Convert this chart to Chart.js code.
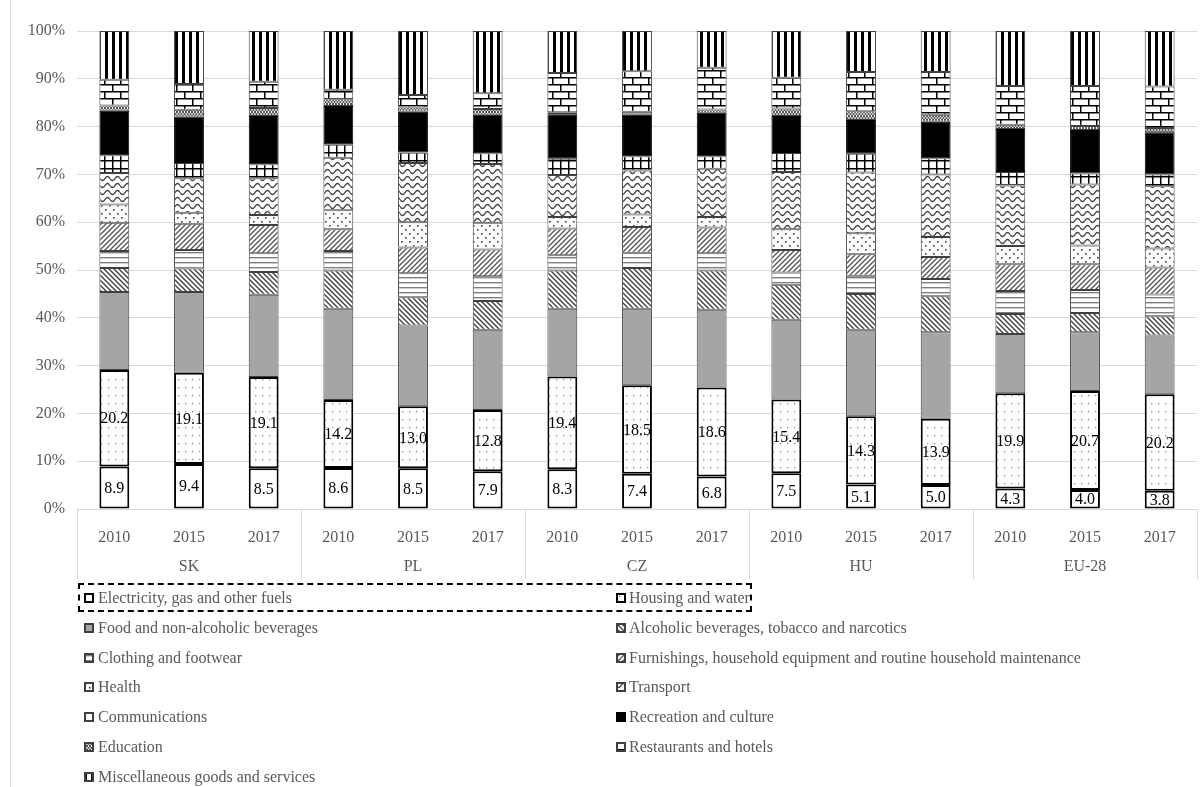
<!DOCTYPE html>
<html>
<head>
<meta charset="utf-8">
<script src="https://cdn.jsdelivr.net/npm/chart.js@4"></script>
<style>
  html, body { margin: 0; padding: 0; background: #fff; }
  #wrap { position: relative; width: 1202px; height: 787px; overflow: hidden; font-family: "Liberation Serif", "Times New Roman", serif; }
  #edge { position: absolute; left: 10px; top: 0; width: 1px; height: 787px; background: #d9d9d9; }
  #chart { position: absolute; left: 0; top: 0; }
  #legend { position: absolute; left: 0; top: 0; width: 1202px; height: 787px; pointer-events: none; }
  .item { position: absolute; height: 30px; line-height: 30px; font-size: 16px; color: #595959; white-space: nowrap; }
  .item canvas { position: absolute; left: 0; top: 10px; }
  .item span { position: absolute; top: 0; }
  #sel { position: absolute; left: 78px; top: 583px; width: 670px; height: 25px; border: 2px dashed #000; }
</style>
</head>
<body>
<div id="wrap">
  <div id="edge"></div>
  <canvas id="chart" width="1202" height="590"></canvas>
  <div id="legend"></div>
  <div id="sel"></div>
</div>
<script>
// Household consumption structure, % of total expenditure
const countries = ['SK', 'PL', 'CZ', 'HU', 'EU-28'];
const years = ['2010', '2015', '2017'];

// each series: SK 2010/2015/2017, PL ..., CZ ..., HU ..., EU-28 ...
const electricity    = [8.9, 9.4, 8.5, 8.6, 8.5, 7.9, 8.3, 7.4, 6.8, 7.5, 5.1, 5.0, 4.3, 4.0, 3.8];
const housing        = [20.2, 19.1, 19.1, 14.2, 13.0, 12.8, 19.4, 18.5, 18.6, 15.4, 14.3, 13.9, 19.9, 20.7, 20.2];
const food           = [16.3, 16.9, 17.2, 19.1, 16.9, 16.8, 14.2, 16.0, 16.3, 16.7, 18.1, 18.1, 12.4, 12.3, 12.3];
const alcohol        = [5.0, 4.9, 4.8, 8.0, 5.9, 6.0, 8.0, 8.5, 8.2, 7.3, 7.5, 7.5, 4.2, 4.0, 4.0];
const clothing       = [3.6, 3.9, 3.9, 4.1, 5.0, 5.2, 3.2, 3.2, 3.6, 2.6, 3.8, 3.6, 4.8, 4.8, 4.6];
const furnishings    = [5.9, 5.5, 5.9, 4.5, 5.4, 5.6, 5.6, 5.4, 5.4, 4.7, 4.5, 4.6, 5.6, 5.4, 5.6];
const health         = [3.8, 2.3, 2.1, 4.0, 5.3, 5.6, 2.4, 2.6, 2.2, 4.3, 4.4, 4.2, 3.8, 3.9, 4.0];
const transport      = [6.6, 7.2, 7.7, 11.0, 12.4, 12.3, 8.8, 9.2, 10.1, 12.0, 12.7, 13.1, 12.7, 12.8, 13.0];
const communications = [3.7, 3.2, 2.9, 2.8, 2.2, 2.2, 3.4, 3.0, 2.6, 4.0, 3.9, 3.4, 2.8, 2.3, 2.5];
const recreation     = [9.3, 9.7, 10.1, 8.0, 8.5, 8.1, 9.3, 8.7, 9.1, 7.7, 7.1, 7.6, 9.0, 9.1, 8.8];
const education      = [1.1, 1.4, 1.7, 1.4, 0.9, 1.2, 0.4, 0.6, 0.7, 1.6, 1.8, 1.5, 0.9, 0.8, 0.9];
const restaurants    = [5.4, 5.4, 5.5, 2.0, 2.6, 3.3, 8.2, 8.5, 8.7, 6.4, 8.2, 8.9, 8.1, 8.4, 8.7];
const misc           = [10.2, 11.1, 10.6, 12.3, 13.4, 13.0, 8.8, 8.4, 7.7, 9.8, 8.6, 8.6, 11.5, 11.5, 11.6];

const yTicks = [0, 10, 20, 30, 40, 50, 60, 70, 80, 90, 100];

// ---- fill patterns ----
function tile(w, h, draw) {
  const c = document.createElement('canvas');
  c.width = w; c.height = h;
  const g = c.getContext('2d');
  g.fillStyle = '#fff';
  g.fillRect(0, 0, w, h);
  draw(g, w, h);
  return c;
}
const tiles = {
  plain: tile(4, 4, () => {}),
  sparseDots: tile(7, 8, g => { g.fillStyle = '#8c8c8c'; g.fillRect(3, 3, 1.3, 1.3); }),
  grey: tile(4, 4, g => { g.fillStyle = '#a5a5a5'; g.fillRect(0, 0, 4, 4); }),
  backDiag: tile(5, 5, g => {
    g.strokeStyle = '#404040'; g.lineWidth = 1.4;
    g.beginPath(); g.moveTo(-1, -1); g.lineTo(6, 6); g.moveTo(-1, 4); g.lineTo(1, 6); g.moveTo(4, -1); g.lineTo(6, 1); g.stroke();
  }),
  hLines: tile(4, 5, g => { g.fillStyle = '#7f7f7f'; g.fillRect(0, 2, 4, 1.4); }),
  fwdDiag: tile(5, 5, g => {
    g.strokeStyle = '#595959'; g.lineWidth = 1.4;
    g.beginPath(); g.moveTo(-1, 6); g.lineTo(6, -1); g.moveTo(-1, 1); g.lineTo(1, -1); g.moveTo(4, 6); g.lineTo(6, 4); g.stroke();
  }),
  denseDots: tile(8, 8, g => { g.fillStyle = '#404040'; g.fillRect(1, 1, 1.6, 1.6); g.fillRect(5, 5, 1.6, 1.6); }),
  waves: tile(10, 7, g => {
    g.strokeStyle = '#404040'; g.lineWidth = 1.3;
    g.beginPath();
    for (let x = 0; x <= 10; x += 0.5) {
      const y = 3.5 + 2 * Math.sin(x / 10 * Math.PI * 2);
      if (x === 0) g.moveTo(x, y); else g.lineTo(x, y);
    }
    g.stroke();
  }),
  grid: tile(8, 8, g => { g.fillStyle = '#000'; g.fillRect(0, 0, 8, 1.5); g.fillRect(0, 0, 1.5, 8); }),
  black: tile(4, 4, g => { g.fillStyle = '#000'; g.fillRect(0, 0, 4, 4); }),
  crosses: tile(6, 4, g => {
    g.strokeStyle = '#404040'; g.lineWidth = 1;
    g.beginPath(); g.moveTo(0, 0); g.lineTo(3, 4); g.moveTo(3, 0); g.lineTo(0, 4);
    g.moveTo(3, 0); g.lineTo(6, 4); g.moveTo(6, 0); g.lineTo(3, 4); g.stroke();
  }),
  bricks: tile(16, 14, g => {
    g.fillStyle = '#000';
    g.fillRect(0, 0, 16, 1.5); g.fillRect(0, 7, 16, 1.5);
    g.fillRect(0, 0, 1.5, 7); g.fillRect(8, 7, 1.5, 7);
  }),
  vStripes: tile(7, 4, g => { g.fillStyle = '#000'; g.fillRect(0, 0, 3, 4); })
};
function fill(ctx, name) { return ctx.createPattern(tiles[name], 'repeat'); }

const seriesDefs = [
  { label: 'Electricity, gas and other fuels', data: electricity, tile: 'plain', bw: 2, bc: '#000' },
  { label: 'Housing and water', data: housing, tile: 'sparseDots', bw: 2, bc: '#000' },
  { label: 'Food and non-alcoholic beverages', data: food, tile: 'grey', bw: 1, bc: '#404040' },
  { label: 'Alcoholic beverages, tobacco and narcotics', data: alcohol, tile: 'backDiag', bw: 1, bc: '#404040' },
  { label: 'Clothing and footwear', data: clothing, tile: 'hLines', bw: 1, bc: '#404040' },
  { label: 'Furnishings, household equipment and routine household maintenance', data: furnishings, tile: 'fwdDiag', bw: 1, bc: '#404040' },
  { label: 'Health', data: health, tile: 'denseDots', bw: 1, bc: '#404040' },
  { label: 'Transport', data: transport, tile: 'waves', bw: 1, bc: '#404040' },
  { label: 'Communications', data: communications, tile: 'grid', bw: 1, bc: '#404040' },
  { label: 'Recreation and culture', data: recreation, tile: 'black', bw: 1, bc: '#000' },
  { label: 'Education', data: education, tile: 'crosses', bw: 1, bc: '#404040' },
  { label: 'Restaurants and hotels', data: restaurants, tile: 'bricks', bw: 1, bc: '#404040' },
  { label: 'Miscellaneous goods and services', data: misc, tile: 'vStripes', bw: 1, bc: '#404040' }
];

const canvas = document.getElementById('chart');
const ctx = canvas.getContext('2d');
const labels = countries.flatMap(() => years);

const datasets = seriesDefs.map(s => ({
  label: s.label,
  data: s.data,
  backgroundColor: fill(ctx, s.tile),
  borderColor: s.bc,
  borderWidth: s.bw,
  borderSkipped: false,
  barPercentage: 0.4,
  categoryPercentage: 1.0
}));

const serif = 'Liberation Serif';

// values printed inside the two lowest segments
const valueLabels = {
  id: 'valueLabels',
  afterDatasetsDraw(chart) {
    const c = chart.ctx;
    c.save();
    c.font = '16px "' + serif + '"';
    c.fillStyle = '#000';
    c.textAlign = 'center';
    c.textBaseline = 'middle';
    [0, 1].forEach(di => {
      const meta = chart.getDatasetMeta(di);
      meta.data.forEach((el, i) => {
        const p = el.getProps(['x', 'y', 'base'], true);
        c.fillText(chart.data.datasets[di].data[i].toFixed(1), p.x, (p.y + p.base) / 2 + 1);
      });
    });
    c.restore();
  }
};

// vertical dividers between the country groups under the axis
const groupDividers = {
  id: 'groupDividers',
  afterDraw(chart) {
    const xs = chart.scales.x;
    const area = chart.chartArea;
    const step = (area.right - area.left) / labels.length;
    const c = chart.ctx;
    c.save();
    c.strokeStyle = '#d9d9d9';
    c.lineWidth = 1;
    for (let g = 0; g <= countries.length; g++) {
      const xpx = Math.round(xs.getPixelForValue(g * years.length) - step / 2) + 0.5;
      c.beginPath();
      c.moveTo(xpx, area.bottom);
      c.lineTo(xpx, area.bottom + 70);
      c.stroke();
    }
    c.restore();
  }
};

const tickFont = { family: serif, size: 16 };

const chart = new Chart(ctx, {
  type: 'bar',
  data: { labels, datasets },
  options: {
    responsive: false,
    animation: false,
    events: [],
    layout: { padding: { left: 0, right: 5, top: 31, bottom: 11 } },
    plugins: { legend: { display: false }, tooltip: { enabled: false } },
    scales: {
      x: {
        stacked: true,
        grid: { display: false },
        border: { display: false },
        ticks: { font: tickFont, color: '#595959', padding: 11, maxRotation: 0, autoSkip: false },
        afterFit(s) { s.height = 40; }
      },
      x2: {
        axis: 'x',
        type: 'category',
        labels: countries,
        position: 'bottom',
        offset: true,
        grid: { display: false },
        border: { display: false },
        ticks: { font: tickFont, color: '#595959', padding: 0, maxRotation: 0 },
        afterFit(s) { s.height = 30; }
      },
      y: {
        stacked: true,
        min: 0,
        max: 100,
        afterBuildTicks(s) { s.ticks = yTicks.map(v => ({ value: v })); },
        grid: { color: '#d9d9d9', drawTicks: false, lineWidth: 1 },
        border: { display: false },
        ticks: { font: tickFont, color: '#595959', padding: 12, callback: v => v + '%' },
        afterFit(s) { s.width = 77; }
      }
    }
  },
  plugins: [valueLabels, groupDividers]
});

// two-column legend under the chart
const legend = document.getElementById('legend');
seriesDefs.forEach((s, i) => {
  const col = i % 2, row = Math.floor(i / 2);
  const item = document.createElement('div');
  item.className = 'item';
  item.style.left = (col === 0 ? 84 : 616) + 'px';
  item.style.top = (583 + row * 29.8) + 'px';
  const ic = document.createElement('canvas');
  ic.width = 10; ic.height = 10;
  const g = ic.getContext('2d');
  g.fillStyle = fill(g, s.tile);
  g.fillRect(0, 0, 10, 10);
  g.strokeStyle = s.bc;
  g.lineWidth = 2;
  g.strokeRect(1, 1, 8, 8);
  const sp = document.createElement('span');
  sp.style.left = (col === 0 ? 14 : 13) + 'px';
  sp.textContent = s.label;
  item.appendChild(ic);
  item.appendChild(sp);
  legend.appendChild(item);
});
</script>
</body>
</html>
